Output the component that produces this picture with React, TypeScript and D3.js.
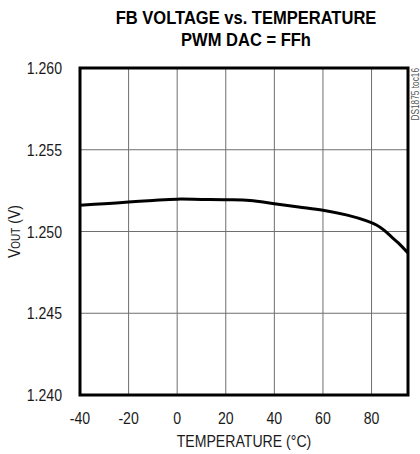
import React from "react";
import * as d3 from "d3";

const temps = [-40, -30, -20, -10, 0, 10, 20, 30, 40, 50, 60, 70, 78, 82, 85, 88, 91, 95];
const vout = [1.2516, 1.2517, 1.2518, 1.2519, 1.25198, 1.25196, 1.25194, 1.2519, 1.2517, 1.2515, 1.2513, 1.2510, 1.25065, 1.2504, 1.2501, 1.2497, 1.2493, 1.24868];
const xTicks = [-40, -20, 0, 20, 40, 60, 80];
const yTicks = [1.24, 1.245, 1.25, 1.255, 1.26];
const titleLines = ["FB VOLTAGE vs. TEMPERATURE", "PWM DAC = FFh"];

const W = 420, H = 454;
const left = 80, right = 408, top = 68, bottom = 395;
const FONT = "'Liberation Sans', Arial, sans-serif";
const SX = 0.83;

function NText(props: { x: number; y: number; anchor?: string; size: number; bold?: boolean; fill?: string; sx?: number; children: React.ReactNode }) {
  return (
    <g transform={`translate(${props.x},${props.y}) scale(${props.sx || SX},1)`}>
      <text x={0} y={0} textAnchor={props.anchor || "middle"} fontFamily={FONT} fontWeight={props.bold ? "bold" : "normal"} fontSize={props.size} fill={props.fill || "#1a1a1a"}>{props.children}</text>
    </g>
  );
}

export default function App() {
  const x = d3.scaleLinear().domain([-40, 95]).range([left, right]);
  const y = d3.scaleLinear().domain([1.24, 1.26]).range([bottom, top]);
  const pts = temps.map((t, i) => [t, vout[i]] as [number, number]);
  const line = d3.line<[number, number]>().x(d => x(d[0])).y(d => y(d[1])).curve(d3.curveCatmullRom);
  return (
    <svg width={W} height={H} style={{ position: "absolute", left: 0, top: 0, background: "#fff" }}>
      {titleLines.map((t, i) => (
        <NText key={t} x={246} y={24 + i * 22} size={19} sx={0.87} bold fill="#000">{t}</NText>
      ))}
      {xTicks.slice(1).map(t => (
        <line key={"gx" + t} x1={x(t)} x2={x(t)} y1={top} y2={bottom} stroke="#6f6f6f" strokeWidth={1} />
      ))}
      {yTicks.slice(1, -1).map(v => (
        <line key={"gy" + v} x1={left} x2={right} y1={y(v)} y2={y(v)} stroke="#6f6f6f" strokeWidth={1} />
      ))}
      <path d={line(pts) || ""} fill="none" stroke="#000" strokeWidth={3} />
      <rect x={left} y={top} width={right - left} height={bottom - top} fill="none" stroke="#000" strokeWidth={3} />
      {yTicks.map(v => (
        <NText key={"yl" + v} x={62} y={y(v) + 6} anchor="end" size={17}>{v.toFixed(3)}</NText>
      ))}
      {xTicks.map(t => (
        <NText key={"xl" + t} x={x(t)} y={424} size={17}>{t}</NText>
      ))}
      <NText x={244} y={447} size={17}>TEMPERATURE (°C)</NText>
      <g transform={`translate(20,${(top + bottom) / 2}) rotate(-90) scale(${SX},1)`}>
        <text textAnchor="middle" fontFamily={FONT} fontSize={17} fill="#1a1a1a">
          V<tspan fontSize={12}>OUT</tspan> (V)
        </text>
      </g>
      <g transform={`translate(419,${top}) rotate(-90) scale(${SX},1)`}>
        <text textAnchor="end" fontFamily={FONT} fontSize={10} fill="#555">DS1875 toc16</text>
      </g>
    </svg>
  );
}
